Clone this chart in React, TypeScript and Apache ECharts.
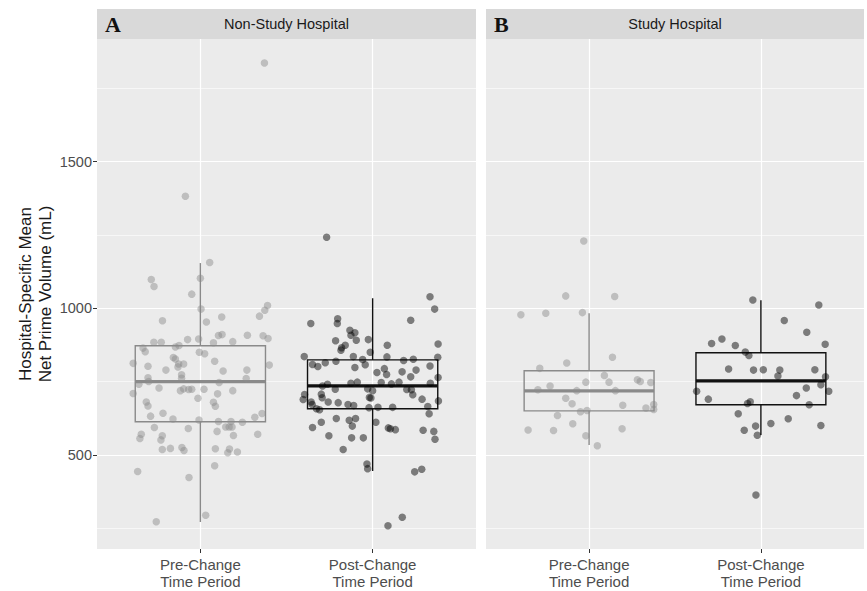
import React, { useEffect, useRef } from "react";
import * as echarts from "echarts";

// ---------- DATA ----------
const periods = ["Pre-Change\nTime Period", "Post-Change\nTime Period"];
const panelTitles = ["Non-Study Hospital", "Study Hospital"];
const panelLetters = ["A", "B"];
const yTicks = [500, 1000, 1500];
const yMinorGrid = [250, 750, 1250, 1750];

// box statistics: [lowerWhisker, Q1, median, Q3, upperWhisker]
const nonStudyPreBox = [271, 613, 750, 872, 1154];
const nonStudyPostBox = [445, 657, 735, 824, 1034];
const studyPreBox = [534, 650, 718, 787, 983];
const studyPostBox = [568, 671, 752, 848, 1027];

// jittered points: [jitter offset, value]
const nonStudyPre = [
  [-0.087, 1382], [0.372, 1836], [0.054, 1156], [-0.285, 1098], [-0.269, 1074], [0, 1102], [-0.05, 1048],
  [0.004, 997], [0.39, 1009], [0.374, 993], [0.343, 973], [0.124, 970], [0.035, 953], [-0.22, 957],
  [-0.27, 884], [-0.227, 884], [-0.074, 893], [-0.01, 895], [0.076, 882], [0.105, 907], [0.126, 910],
  [0.188, 886], [0.273, 908], [0.364, 906], [0.393, 897], [-0.333, 864], [-0.32, 852], [-0.145, 868],
  [-0.124, 873], [-0.006, 850], [0.025, 845], [-0.39, 812], [-0.304, 802], [-0.157, 832], [-0.145, 827],
  [-0.126, 810], [-0.097, 810], [-0.13, 800], [-0.2, 789], [0.083, 819], [0.132, 786], [0.27, 789],
  [0.4, 806], [-0.304, 763], [-0.3, 750], [-0.357, 741], [-0.109, 773], [-0.109, 761], [0.109, 747],
  [0.266, 760], [-0.39, 709], [-0.24, 728], [-0.116, 719], [-0.097, 725], [-0.068, 723], [-0.05, 724],
  [0.021, 724], [0.188, 719], [0.1, 708], [-0.014, 693], [-0.314, 680], [-0.304, 667], [0.076, 679],
  [0.087, 666], [-0.217, 642], [-0.289, 632], [-0.159, 622], [-0.008, 619], [0.105, 614], [0.178, 614],
  [0.244, 611], [0.358, 641], [0.316, 628], [-0.267, 593], [-0.07, 590], [0.147, 595], [0.167, 595],
  [0.184, 595], [0.097, 580], [0.192, 566], [0.333, 570], [-0.343, 570], [-0.351, 556], [-0.221, 565],
  [-0.229, 551], [-0.221, 518], [-0.174, 522], [-0.107, 525], [-0.095, 515], [0.087, 521], [0.169, 520],
  [0.159, 507], [0.215, 510], [0.083, 463], [-0.364, 443], [-0.066, 423], [0.031, 294], [-0.256, 272],
];
const nonStudyPost = [
  [-0.267, 1242], [0.333, 1039], [0.36, 997], [0.221, 959], [-0.359, 948], [-0.203, 964], [-0.205, 948],
  [-0.132, 925], [-0.103, 916], [-0.126, 908], [-0.095, 891], [-0.215, 889], [-0.025, 893], [-0.159, 874],
  [-0.18, 865], [-0.184, 857], [0.085, 874], [0.38, 878], [-0.014, 850], [-0.397, 835], [-0.112, 835],
  [0.083, 834], [-0.213, 819], [-0.058, 825], [-0.043, 807], [0.18, 822], [0.236, 826], [0.378, 833],
  [-0.349, 808], [-0.318, 801], [-0.275, 814], [-0.103, 798], [0.333, 803], [0.068, 794], [0.025, 781],
  [0.081, 774], [0.171, 783], [0.252, 789], [0.221, 766], [0.38, 764], [-0.291, 735], [-0.262, 741],
  [-0.126, 744], [-0.089, 748], [0.05, 747], [0.109, 742], [0.153, 748], [0.335, 744], [-0.217, 724],
  [-0.029, 725], [0, 719], [0.198, 723], [0.225, 722], [-0.395, 706], [-0.298, 707], [0.233, 705],
  [-0.403, 689], [-0.293, 695], [-0.01, 694], [-0.019, 696], [0.287, 690], [-0.357, 680], [-0.351, 672],
  [-0.258, 680], [-0.2, 678], [-0.143, 672], [-0.11, 668], [-0.021, 661], [0.031, 662], [0.116, 662],
  [0.382, 684], [0.32, 665], [-0.326, 657], [-0.308, 654], [0.328, 640], [-0.211, 624], [-0.136, 618],
  [-0.099, 624], [-0.298, 611], [0.019, 611], [-0.349, 593], [-0.118, 598], [0.091, 592], [0.103, 589],
  [0.132, 586], [0.293, 584], [0.355, 580], [-0.254, 565], [-0.122, 558], [-0.054, 558], [0.362, 553],
  [-0.171, 518], [-0.033, 469], [-0.029, 453], [0.244, 442], [0.285, 451], [0.172, 287], [0.089, 258],
];
const studyPre = [
  [-0.031, 1229], [-0.136, 1042], [0.149, 1040], [-0.397, 978], [-0.252, 983], [-0.039, 985], [0.136, 833],
  [-0.13, 813], [-0.287, 795], [0.089, 771], [0.281, 756], [0.298, 750], [0.359, 747], [-0.019, 748],
  [0.116, 748], [-0.227, 735], [-0.298, 722], [-0.072, 719], [0.153, 719], [-0.136, 693], [-0.099, 674],
  [0.196, 669], [0.376, 672], [0.331, 660], [0.376, 655], [-0.05, 647], [-0.012, 651], [-0.184, 634],
  [-0.095, 606], [-0.355, 585], [-0.207, 583], [0.192, 589], [-0.019, 565], [0.048, 531],
];
const studyPost = [
  [-0.047, 1028], [0.337, 1011], [0.136, 958], [0.267, 918], [-0.287, 880], [-0.227, 895], [-0.149, 873],
  [0.374, 877], [-0.091, 851], [-0.07, 839], [-0.188, 793], [-0.043, 789], [0.014, 790], [0.11, 789],
  [0.314, 790], [0.099, 769], [0.376, 766], [0.349, 739], [-0.374, 717], [0.264, 728], [0.395, 717],
  [-0.306, 690], [0.207, 702], [-0.078, 675], [-0.062, 681], [0.281, 671], [-0.132, 640], [0.159, 623],
  [0.058, 607], [-0.097, 584], [-0.031, 598], [-0.021, 567], [0.349, 600], [-0.029, 363],
];

// ---------- STYLE ----------
const FONT = "'Liberation Sans', Arial, sans-serif";
const PRE_BOX = "#8a8a8a";
const POST_BOX = "#111111";
const PRE_PT = "rgba(140,140,140,0.6)";
const POST_PT = "rgba(0,0,0,0.6)";

const GRID_TOP = 39;
const GRID_H = 510;
const grids = [
  { left: 97, top: GRID_TOP, width: 379, height: GRID_H },
  { left: 486, top: GRID_TOP, width: 378, height: GRID_H },
];

function boxSeries(gridIdx: number, boxes: number[][], colors: string[]) {
  return {
    type: "custom",
    xAxisIndex: gridIdx,
    yAxisIndex: gridIdx,
    z: 10,
    silent: true,
    data: boxes.map((b, i) => [i + 1, ...b]),
    renderItem: (params: any, api: any) => {
      const x = api.value(0);
      const lo = api.value(1), q1 = api.value(2), med = api.value(3), q3 = api.value(4), hi = api.value(5);
      const hw = 0.378;
      const tl = api.coord([x - hw, q3]);
      const br = api.coord([x + hw, q1]);
      const mL = api.coord([x - hw, med]);
      const mR = api.coord([x + hw, med]);
      const pHi = api.coord([x, hi]);
      const pQ3 = api.coord([x, q3]);
      const pQ1 = api.coord([x, q1]);
      const pLo = api.coord([x, lo]);
      const c = colors[params.dataIndex];
      const ls = { stroke: c, lineWidth: 1.4 };
      return {
        type: "group",
        children: [
          { type: "line", z2: 1, shape: { x1: pHi[0], y1: pHi[1], x2: pQ3[0], y2: pQ3[1] }, style: ls },
          { type: "line", z2: 1, shape: { x1: pQ1[0], y1: pQ1[1], x2: pLo[0], y2: pLo[1] }, style: ls },
          {
            type: "rect",
            z2: 1,
            shape: { x: tl[0], y: tl[1], width: br[0] - tl[0], height: br[1] - tl[1] },
            style: { stroke: c, lineWidth: 1.4, fill: "rgba(0,0,0,0)" },
          },
          { type: "line", z2: 2, shape: { x1: mL[0], y1: mL[1], x2: mR[0], y2: mR[1] }, style: { stroke: c, lineWidth: 3.2 } },
        ],
      };
    },
  };
}

function pointSeries(gridIdx: number, pts: number[][], base: number, color: string) {
  return {
    type: "scatter",
    xAxisIndex: gridIdx,
    yAxisIndex: gridIdx,
    z: 11,
    silent: true,
    symbolSize: 7.5,
    itemStyle: { color },
    data: pts.map((p) => [base + p[0], p[1]]),
  };
}

function gridLineSeries(gridIdx: number) {
  const major = yTicks.map((v) => ({ yAxis: v, lineStyle: { width: 1.2 } }));
  const minor = yMinorGrid.map((v) => ({ yAxis: v, lineStyle: { width: 0.6 } }));
  const vert = [1, 2].map((v) => ({ xAxis: v, lineStyle: { width: 1.2 } }));
  return {
    type: "scatter",
    xAxisIndex: gridIdx,
    yAxisIndex: gridIdx,
    z: 1,
    silent: true,
    data: [],
    markLine: {
      silent: true,
      z: 1,
      symbol: "none",
      animation: false,
      label: { show: false },
      lineStyle: { color: "#ffffff", type: "solid" },
      emphasis: { disabled: true },
      data: [...minor, ...major, ...vert],
    },
  };
}

export default function App() {
  const ref = useRef<HTMLDivElement>(null);
  useEffect(() => {
    if (!ref.current) return;
    const chart = echarts.init(ref.current, null, { renderer: "svg" });

    const xAxes = grids.map((_, i) => ({
      type: "value",
      gridIndex: i,
      min: 0.4,
      max: 2.6,
      axisLine: { show: false },
      splitLine: { show: false },
      axisTick: { show: true, customValues: [1, 2], length: 4, lineStyle: { color: "#333333", width: 1 } },
      axisLabel: {
        customValues: [1, 2],
        formatter: (v: number) => periods[Math.round(v) - 1],
        color: "#4d4d4d",
        fontFamily: FONT,
        fontSize: 15,
        lineHeight: 17,
        margin: 7,
      },
    }));

    const yAxes = grids.map((_, i) => ({
      type: "value",
      gridIndex: i,
      min: 179,
      max: 1918,
      axisLine: { show: false },
      splitLine: { show: false },
      axisTick: {
        show: i === 0,
        customValues: yTicks,
        length: 4,
        lineStyle: { color: "#333333", width: 1 },
      },
      axisLabel: {
        show: i === 0,
        customValues: yTicks,
        formatter: (v: number) => String(v),
        color: "#4d4d4d",
        fontFamily: FONT,
        fontSize: 14.5,
        margin: 5,
      },
      name: i === 0 ? "Hospital-Specific Mean\nNet Prime Volume (mL)" : "",
      nameLocation: "middle",
      nameRotate: 90,
      nameGap: 42,
      nameTextStyle: { color: "#1a1a1a", fontFamily: FONT, fontSize: 17, lineHeight: 20 },
    }));

    const graphics: any[] = [];
    grids.forEach((g, i) => {
      graphics.push({
        type: "rect",
        left: g.left,
        top: 9,
        shape: { width: g.width, height: 30 },
        style: { fill: "#d9d9d9" },
        silent: true,
      });
      graphics.push({
        type: "text",
        x: g.left + g.width / 2,
        y: 24,
        style: {
          text: panelTitles[i],
          fill: "#1a1a1a",
          font: `14.5px ${FONT}`,
          textAlign: "center",
          textVerticalAlign: "middle",
        },
        silent: true,
      });
      graphics.push({
        type: "text",
        x: g.left + 8,
        y: 24,
        style: {
          text: panelLetters[i],
          fill: "#111111",
          font: `bold 22px 'Liberation Serif', 'Times New Roman', serif`,
          textAlign: "left",
          textVerticalAlign: "middle",
        },
        silent: true,
      });
    });

    chart.setOption({
      animation: false,
      backgroundColor: "#ffffff",
      grid: grids.map((g) => ({ ...g, show: true, backgroundColor: "#ebebeb", borderWidth: 0 })),
      xAxis: xAxes,
      yAxis: yAxes,
      graphic: graphics,
      series: [
        gridLineSeries(0),
        gridLineSeries(1),
        boxSeries(0, [nonStudyPreBox, nonStudyPostBox], [PRE_BOX, POST_BOX]),
        boxSeries(1, [studyPreBox, studyPostBox], [PRE_BOX, POST_BOX]),
        pointSeries(0, nonStudyPre, 1, PRE_PT),
        pointSeries(0, nonStudyPost, 2, POST_PT),
        pointSeries(1, studyPre, 1, PRE_PT),
        pointSeries(1, studyPost, 2, POST_PT),
      ],
    });
    return () => chart.dispose();
  }, []);
  return (
    <div
      ref={ref}
      style={{ position: "fixed", left: 0, top: 0, width: 867, height: 591, background: "#ffffff" }}
    />
  );
}
